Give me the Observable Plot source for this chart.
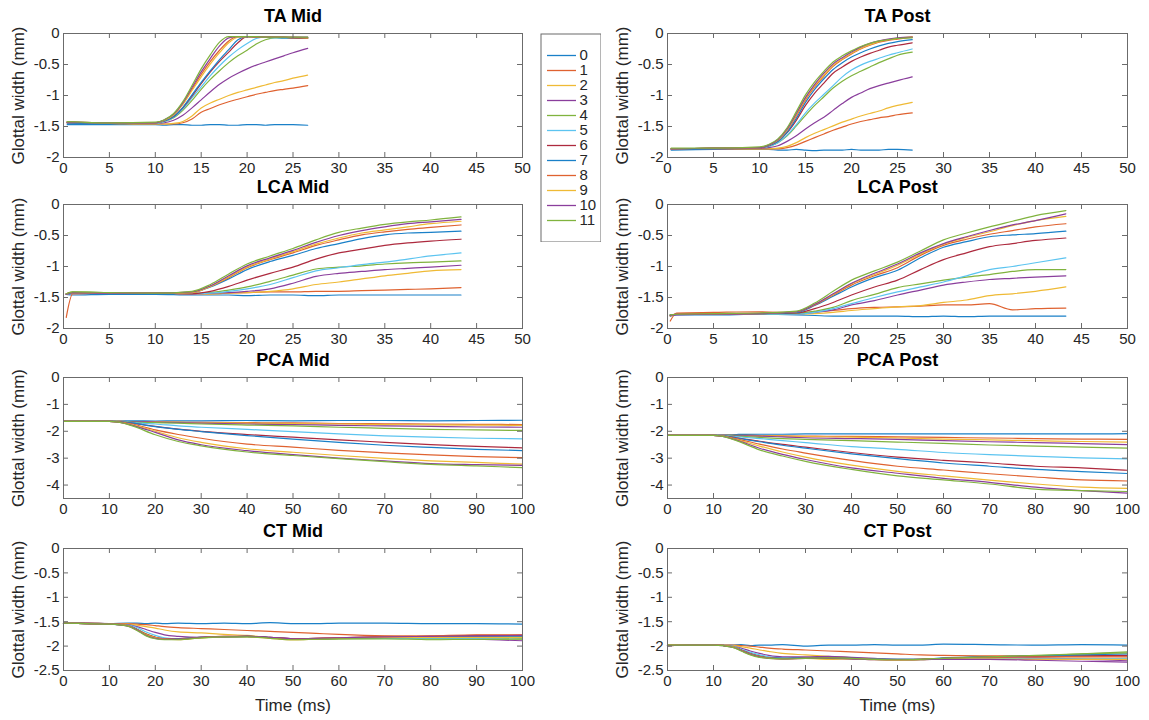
<!DOCTYPE html>
<html><head><meta charset="utf-8">
<script src="https://cdn.jsdelivr.net/npm/d3@7"></script>
<script src="https://cdn.jsdelivr.net/npm/@observablehq/plot@0.6"></script>
<style>
body{margin:0;background:#fff;font-family:"Liberation Sans",Arial,Helvetica,sans-serif;}
#root{position:relative;width:1149px;height:720px;overflow:hidden;}
.panel{position:absolute;}
</style></head><body><div id="root"></div>
<script>
const seriesNames = ["0","1","2","3","4","5","6","7","8","9","10","11"];
const seriesColors = ["#1a80c8","#df6230","#efba35","#8a3e9c","#80b33e","#5cc4f0","#ad2a3e","#1a80c8","#df6230","#efba35","#8a3e9c","#80b33e"];

const ticksX50 = [0,5,10,15,20,25,30,35,40,45,50];
const ticksX100 = [0,10,20,30,40,50,60,70,80,90,100];
const ticksY2 = [0,-0.5,-1,-1.5,-2];
const ticksY45 = [0,-1,-2,-3,-4];
const ticksY25 = [0,-0.5,-1,-1.5,-2,-2.5];

// ---------- TA ----------
const taTime = [0.4,5,10,11,12,13,14,15,16,17,18,19,20,21,22,23,24,25,26.6];
const taMid = [
 [-1.47,-1.47,-1.47,-1.48,-1.47,-1.47,-1.48,-1.48,-1.47,-1.47,-1.48,-1.48,-1.47,-1.47,-1.48,-1.47,-1.47,-1.47,-1.48],
 [-1.44,-1.45,-1.46,-1.46,-1.46,-1.44,-1.38,-1.27,-1.21,-1.15,-1.10,-1.06,-1.02,-0.98,-0.95,-0.92,-0.90,-0.88,-0.84],
 [-1.44,-1.45,-1.46,-1.46,-1.45,-1.42,-1.33,-1.20,-1.12,-1.06,-1.00,-0.95,-0.91,-0.87,-0.83,-0.79,-0.76,-0.72,-0.67],
 [-1.44,-1.45,-1.45,-1.44,-1.40,-1.32,-1.20,-1.07,-0.94,-0.82,-0.72,-0.64,-0.57,-0.51,-0.46,-0.41,-0.36,-0.31,-0.24],
 [-1.43,-1.45,-1.45,-1.42,-1.36,-1.24,-1.08,-0.90,-0.74,-0.60,-0.47,-0.36,-0.27,-0.17,-0.10,-0.07,-0.07,-0.07,-0.07],
 [-1.43,-1.45,-1.45,-1.42,-1.35,-1.22,-1.04,-0.86,-0.68,-0.52,-0.38,-0.26,-0.16,-0.08,-0.06,-0.07,-0.07,-0.07,-0.07],
 [-1.43,-1.45,-1.44,-1.41,-1.34,-1.20,-1.01,-0.81,-0.62,-0.45,-0.30,-0.15,-0.05,-0.05,-0.06,-0.06,-0.06,-0.07,-0.08],
 [-1.44,-1.45,-1.44,-1.41,-1.34,-1.19,-0.99,-0.79,-0.60,-0.42,-0.26,-0.10,-0.05,-0.06,-0.06,-0.06,-0.07,-0.07,-0.07],
 [-1.43,-1.44,-1.44,-1.40,-1.31,-1.14,-0.90,-0.66,-0.45,-0.27,-0.12,-0.05,-0.05,-0.06,-0.06,-0.06,-0.06,-0.07,-0.07],
 [-1.43,-1.44,-1.44,-1.40,-1.31,-1.14,-0.92,-0.70,-0.49,-0.31,-0.15,-0.06,-0.05,-0.05,-0.06,-0.06,-0.06,-0.06,-0.07],
 [-1.43,-1.44,-1.44,-1.39,-1.30,-1.12,-0.87,-0.62,-0.40,-0.20,-0.07,-0.05,-0.05,-0.05,-0.06,-0.06,-0.06,-0.06,-0.06],
 [-1.42,-1.44,-1.43,-1.39,-1.29,-1.10,-0.84,-0.57,-0.34,-0.14,-0.05,-0.05,-0.05,-0.05,-0.06,-0.06,-0.06,-0.06,-0.06]
];
const taPost = [
 [-1.88,-1.87,-1.87,-1.87,-1.88,-1.88,-1.87,-1.88,-1.89,-1.88,-1.88,-1.88,-1.87,-1.88,-1.88,-1.88,-1.87,-1.87,-1.88],
 [-1.86,-1.86,-1.86,-1.86,-1.86,-1.84,-1.80,-1.74,-1.68,-1.62,-1.56,-1.51,-1.46,-1.42,-1.39,-1.36,-1.34,-1.31,-1.28],
 [-1.86,-1.86,-1.86,-1.86,-1.85,-1.82,-1.76,-1.68,-1.61,-1.55,-1.49,-1.43,-1.38,-1.33,-1.29,-1.25,-1.20,-1.16,-1.11],
 [-1.86,-1.86,-1.85,-1.84,-1.81,-1.74,-1.65,-1.54,-1.44,-1.35,-1.24,-1.13,-1.03,-0.96,-0.89,-0.84,-0.80,-0.76,-0.70],
 [-1.86,-1.85,-1.84,-1.82,-1.76,-1.65,-1.49,-1.32,-1.16,-1.02,-0.88,-0.77,-0.68,-0.61,-0.54,-0.47,-0.41,-0.35,-0.30],
 [-1.86,-1.85,-1.84,-1.82,-1.76,-1.64,-1.47,-1.28,-1.12,-0.98,-0.84,-0.70,-0.59,-0.51,-0.45,-0.40,-0.35,-0.31,-0.25],
 [-1.86,-1.85,-1.84,-1.81,-1.74,-1.60,-1.40,-1.16,-0.96,-0.80,-0.64,-0.54,-0.45,-0.38,-0.32,-0.27,-0.22,-0.19,-0.15],
 [-1.87,-1.86,-1.84,-1.81,-1.74,-1.59,-1.37,-1.11,-0.90,-0.73,-0.58,-0.47,-0.38,-0.31,-0.25,-0.20,-0.16,-0.13,-0.10],
 [-1.86,-1.85,-1.84,-1.80,-1.72,-1.56,-1.33,-1.07,-0.86,-0.69,-0.53,-0.42,-0.33,-0.25,-0.19,-0.14,-0.11,-0.09,-0.06],
 [-1.86,-1.85,-1.84,-1.80,-1.72,-1.55,-1.31,-1.05,-0.84,-0.67,-0.51,-0.41,-0.32,-0.24,-0.18,-0.13,-0.10,-0.08,-0.05],
 [-1.86,-1.85,-1.84,-1.80,-1.71,-1.54,-1.29,-1.03,-0.82,-0.64,-0.49,-0.39,-0.30,-0.22,-0.16,-0.12,-0.09,-0.07,-0.06],
 [-1.85,-1.85,-1.83,-1.79,-1.70,-1.52,-1.26,-0.99,-0.78,-0.61,-0.46,-0.36,-0.28,-0.21,-0.16,-0.12,-0.10,-0.08,-0.07]
];

// ---------- LCA ----------
const lcaTime = [0.3,1,5,10,14,16,18,20,22.5,25,27.5,30,32.5,35,37.5,40,43.3];
const lcaMid = [
 [-1.45,-1.46,-1.45,-1.45,-1.46,-1.46,-1.46,-1.47,-1.46,-1.46,-1.47,-1.46,-1.46,-1.46,-1.46,-1.46,-1.46],
 [-1.82,-1.44,-1.43,-1.43,-1.44,-1.44,-1.43,-1.42,-1.41,-1.41,-1.40,-1.40,-1.39,-1.38,-1.37,-1.36,-1.34],
 [-1.45,-1.42,-1.43,-1.43,-1.44,-1.44,-1.43,-1.42,-1.40,-1.36,-1.29,-1.25,-1.20,-1.15,-1.11,-1.07,-1.05],
 [-1.45,-1.42,-1.43,-1.43,-1.44,-1.43,-1.42,-1.40,-1.36,-1.27,-1.16,-1.11,-1.08,-1.05,-1.03,-1.01,-0.98],
 [-1.44,-1.41,-1.42,-1.43,-1.43,-1.42,-1.38,-1.33,-1.24,-1.14,-1.04,-1.01,-0.99,-0.96,-0.94,-0.93,-0.91],
 [-1.45,-1.42,-1.43,-1.43,-1.44,-1.43,-1.40,-1.36,-1.29,-1.18,-1.07,-1.02,-0.97,-0.93,-0.88,-0.83,-0.78],
 [-1.44,-1.42,-1.43,-1.43,-1.44,-1.40,-1.32,-1.22,-1.11,-1.01,-0.88,-0.78,-0.72,-0.66,-0.62,-0.59,-0.56],
 [-1.45,-1.42,-1.43,-1.43,-1.42,-1.33,-1.20,-1.05,-0.92,-0.82,-0.71,-0.63,-0.55,-0.49,-0.46,-0.45,-0.43],
 [-1.44,-1.42,-1.43,-1.43,-1.42,-1.32,-1.18,-1.02,-0.89,-0.78,-0.66,-0.57,-0.49,-0.44,-0.40,-0.37,-0.33],
 [-1.45,-1.42,-1.43,-1.43,-1.42,-1.32,-1.17,-1.01,-0.88,-0.76,-0.64,-0.54,-0.46,-0.41,-0.36,-0.31,-0.27],
 [-1.45,-1.42,-1.43,-1.43,-1.41,-1.31,-1.15,-0.99,-0.86,-0.74,-0.61,-0.50,-0.42,-0.36,-0.31,-0.28,-0.24],
 [-1.44,-1.41,-1.42,-1.43,-1.40,-1.29,-1.12,-0.96,-0.83,-0.71,-0.57,-0.45,-0.38,-0.32,-0.28,-0.25,-0.20]
];
const lcaPost = [
 [-1.80,-1.78,-1.78,-1.77,-1.78,-1.79,-1.80,-1.80,-1.80,-1.80,-1.81,-1.80,-1.81,-1.80,-1.80,-1.80,-1.80],
 [-1.88,-1.75,-1.74,-1.73,-1.75,-1.73,-1.71,-1.68,-1.66,-1.65,-1.64,-1.62,-1.62,-1.60,-1.70,-1.68,-1.67],
 [-1.78,-1.77,-1.77,-1.76,-1.77,-1.76,-1.74,-1.71,-1.68,-1.65,-1.63,-1.58,-1.54,-1.47,-1.44,-1.40,-1.33],
 [-1.79,-1.78,-1.77,-1.77,-1.77,-1.74,-1.70,-1.62,-1.55,-1.46,-1.38,-1.30,-1.25,-1.21,-1.19,-1.17,-1.15],
 [-1.78,-1.77,-1.77,-1.77,-1.76,-1.72,-1.66,-1.55,-1.45,-1.34,-1.28,-1.22,-1.17,-1.13,-1.08,-1.05,-1.05],
 [-1.78,-1.77,-1.77,-1.77,-1.77,-1.74,-1.68,-1.60,-1.50,-1.41,-1.33,-1.25,-1.15,-1.05,-1.00,-0.94,-0.86],
 [-1.79,-1.77,-1.77,-1.76,-1.75,-1.68,-1.58,-1.46,-1.33,-1.22,-1.05,-0.89,-0.78,-0.68,-0.63,-0.58,-0.54],
 [-1.78,-1.77,-1.77,-1.76,-1.74,-1.63,-1.48,-1.33,-1.18,-1.06,-0.86,-0.69,-0.60,-0.52,-0.49,-0.47,-0.43],
 [-1.80,-1.76,-1.76,-1.75,-1.73,-1.62,-1.46,-1.30,-1.15,-1.02,-0.82,-0.66,-0.56,-0.48,-0.42,-0.36,-0.31],
 [-1.79,-1.77,-1.77,-1.76,-1.73,-1.61,-1.45,-1.28,-1.13,-0.98,-0.80,-0.64,-0.53,-0.44,-0.34,-0.26,-0.19],
 [-1.79,-1.77,-1.77,-1.76,-1.73,-1.61,-1.44,-1.27,-1.11,-0.96,-0.78,-0.63,-0.52,-0.42,-0.33,-0.26,-0.15],
 [-1.78,-1.77,-1.76,-1.75,-1.72,-1.59,-1.40,-1.22,-1.07,-0.93,-0.75,-0.57,-0.46,-0.36,-0.27,-0.18,-0.10]
];

// ---------- PCA ----------
const pcaTime = [0,5,10,12,15,20,25,30,40,50,60,70,80,90,100];
const pcaMid = [
 [-1.63,-1.63,-1.62,-1.62,-1.61,-1.62,-1.61,-1.61,-1.60,-1.61,-1.60,-1.60,-1.61,-1.60,-1.59],
 [-1.63,-1.63,-1.63,-1.63,-1.64,-1.65,-1.66,-1.67,-1.68,-1.69,-1.71,-1.72,-1.73,-1.74,-1.75],
 [-1.63,-1.63,-1.63,-1.63,-1.64,-1.65,-1.67,-1.68,-1.70,-1.71,-1.73,-1.75,-1.76,-1.77,-1.78],
 [-1.63,-1.63,-1.63,-1.63,-1.64,-1.66,-1.68,-1.70,-1.73,-1.75,-1.78,-1.80,-1.82,-1.84,-1.85],
 [-1.63,-1.63,-1.63,-1.63,-1.66,-1.68,-1.70,-1.73,-1.77,-1.80,-1.85,-1.89,-1.93,-1.95,-1.97],
 [-1.63,-1.63,-1.63,-1.64,-1.68,-1.73,-1.80,-1.85,-1.93,-2.01,-2.10,-2.17,-2.22,-2.26,-2.28],
 [-1.63,-1.63,-1.63,-1.65,-1.70,-1.82,-1.92,-2.00,-2.12,-2.22,-2.32,-2.41,-2.50,-2.56,-2.62],
 [-1.63,-1.63,-1.63,-1.65,-1.70,-1.83,-1.93,-2.01,-2.16,-2.29,-2.41,-2.52,-2.60,-2.67,-2.72],
 [-1.63,-1.63,-1.63,-1.65,-1.73,-1.95,-2.12,-2.26,-2.48,-2.59,-2.71,-2.80,-2.88,-2.94,-2.98],
 [-1.63,-1.63,-1.63,-1.66,-1.76,-2.00,-2.24,-2.41,-2.65,-2.78,-2.90,-3.01,-3.10,-3.16,-3.22],
 [-1.63,-1.63,-1.63,-1.66,-1.78,-2.04,-2.32,-2.50,-2.72,-2.87,-3.00,-3.10,-3.20,-3.24,-3.27],
 [-1.63,-1.63,-1.63,-1.66,-1.80,-2.13,-2.38,-2.54,-2.77,-2.90,-3.02,-3.13,-3.23,-3.29,-3.35]
];
const pcaPost = [
 [-2.15,-2.15,-2.14,-2.13,-2.12,-2.11,-2.11,-2.10,-2.10,-2.10,-2.10,-2.10,-2.10,-2.10,-2.09],
 [-2.15,-2.15,-2.15,-2.15,-2.15,-2.16,-2.17,-2.18,-2.19,-2.21,-2.23,-2.25,-2.27,-2.29,-2.30],
 [-2.15,-2.15,-2.15,-2.15,-2.16,-2.17,-2.18,-2.20,-2.22,-2.25,-2.29,-2.32,-2.35,-2.38,-2.40],
 [-2.15,-2.15,-2.15,-2.15,-2.16,-2.18,-2.21,-2.24,-2.27,-2.30,-2.35,-2.39,-2.42,-2.46,-2.50],
 [-2.15,-2.15,-2.15,-2.16,-2.18,-2.23,-2.27,-2.30,-2.35,-2.40,-2.45,-2.51,-2.55,-2.59,-2.63],
 [-2.15,-2.15,-2.15,-2.16,-2.20,-2.27,-2.35,-2.42,-2.57,-2.67,-2.79,-2.87,-2.93,-2.99,-3.03],
 [-2.15,-2.15,-2.15,-2.17,-2.24,-2.37,-2.49,-2.59,-2.79,-2.96,-3.08,-3.18,-3.30,-3.36,-3.45],
 [-2.15,-2.15,-2.15,-2.17,-2.25,-2.39,-2.52,-2.63,-2.84,-3.02,-3.18,-3.30,-3.42,-3.50,-3.57],
 [-2.15,-2.15,-2.15,-2.18,-2.28,-2.48,-2.66,-2.81,-3.08,-3.30,-3.44,-3.58,-3.70,-3.81,-3.85],
 [-2.15,-2.15,-2.15,-2.18,-2.31,-2.55,-2.77,-2.96,-3.26,-3.49,-3.66,-3.82,-3.96,-4.08,-4.12],
 [-2.15,-2.15,-2.15,-2.19,-2.33,-2.63,-2.86,-3.05,-3.36,-3.56,-3.75,-3.90,-4.08,-4.21,-4.30],
 [-2.15,-2.15,-2.15,-2.19,-2.35,-2.69,-2.92,-3.12,-3.42,-3.66,-3.81,-3.96,-4.15,-4.21,-4.24]
];

// ---------- CT ----------
const ctTime = [0,5,10,14,16,18,20,22,25,30,35,40,45,50,55,60,70,80,90,100];
const ctMid = [
 [-1.53,-1.53,-1.54,-1.53,-1.53,-1.54,-1.53,-1.54,-1.53,-1.54,-1.53,-1.54,-1.52,-1.54,-1.54,-1.53,-1.53,-1.54,-1.54,-1.55],
 [-1.53,-1.53,-1.54,-1.54,-1.55,-1.56,-1.58,-1.60,-1.62,-1.64,-1.66,-1.68,-1.70,-1.72,-1.74,-1.76,-1.79,-1.80,-1.79,-1.78],
 [-1.53,-1.53,-1.54,-1.55,-1.57,-1.60,-1.63,-1.67,-1.71,-1.73,-1.76,-1.78,-1.83,-1.87,-1.86,-1.84,-1.82,-1.82,-1.81,-1.80],
 [-1.53,-1.53,-1.54,-1.56,-1.60,-1.66,-1.72,-1.77,-1.80,-1.82,-1.82,-1.80,-1.82,-1.85,-1.85,-1.84,-1.82,-1.83,-1.86,-1.89],
 [-1.53,-1.54,-1.55,-1.58,-1.65,-1.75,-1.82,-1.86,-1.86,-1.83,-1.81,-1.80,-1.83,-1.86,-1.86,-1.85,-1.84,-1.87,-1.86,-1.86],
 [-1.53,-1.54,-1.55,-1.57,-1.62,-1.71,-1.78,-1.83,-1.85,-1.82,-1.81,-1.81,-1.83,-1.85,-1.85,-1.84,-1.84,-1.84,-1.84,-1.83],
 [-1.53,-1.54,-1.55,-1.58,-1.66,-1.76,-1.82,-1.85,-1.85,-1.82,-1.80,-1.80,-1.82,-1.85,-1.84,-1.83,-1.82,-1.80,-1.78,-1.78],
 [-1.53,-1.54,-1.55,-1.58,-1.66,-1.77,-1.83,-1.86,-1.85,-1.82,-1.81,-1.80,-1.83,-1.86,-1.85,-1.84,-1.82,-1.81,-1.80,-1.80],
 [-1.53,-1.54,-1.55,-1.58,-1.66,-1.76,-1.82,-1.85,-1.86,-1.82,-1.80,-1.80,-1.83,-1.85,-1.84,-1.83,-1.80,-1.79,-1.77,-1.77],
 [-1.53,-1.54,-1.55,-1.58,-1.67,-1.77,-1.83,-1.86,-1.87,-1.83,-1.81,-1.81,-1.84,-1.87,-1.86,-1.84,-1.82,-1.82,-1.82,-1.82],
 [-1.53,-1.54,-1.55,-1.59,-1.67,-1.78,-1.84,-1.86,-1.86,-1.82,-1.81,-1.80,-1.82,-1.85,-1.84,-1.83,-1.81,-1.80,-1.79,-1.78],
 [-1.53,-1.54,-1.55,-1.59,-1.68,-1.79,-1.85,-1.87,-1.87,-1.83,-1.81,-1.81,-1.84,-1.87,-1.86,-1.85,-1.85,-1.86,-1.86,-1.85]
];
const ctPost = [
 [-1.99,-1.97,-1.98,-1.98,-1.97,-1.99,-1.98,-1.98,-1.97,-2.00,-1.98,-1.98,-1.97,-1.98,-1.98,-1.96,-1.97,-1.98,-1.97,-1.98],
 [-1.99,-1.98,-1.98,-1.98,-1.99,-2.00,-2.02,-2.04,-2.06,-2.08,-2.10,-2.12,-2.14,-2.16,-2.18,-2.19,-2.20,-2.20,-2.20,-2.20],
 [-1.99,-1.98,-1.98,-1.99,-2.01,-2.04,-2.08,-2.11,-2.15,-2.18,-2.21,-2.24,-2.26,-2.27,-2.27,-2.26,-2.26,-2.25,-2.25,-2.26],
 [-1.99,-1.98,-1.98,-2.00,-2.04,-2.10,-2.15,-2.19,-2.22,-2.22,-2.21,-2.23,-2.25,-2.27,-2.27,-2.25,-2.24,-2.24,-2.27,-2.30],
 [-1.98,-1.98,-1.98,-2.01,-2.07,-2.15,-2.20,-2.23,-2.25,-2.24,-2.24,-2.26,-2.27,-2.28,-2.28,-2.25,-2.22,-2.20,-2.16,-2.12],
 [-1.98,-1.98,-1.98,-2.00,-2.06,-2.13,-2.18,-2.22,-2.24,-2.25,-2.25,-2.26,-2.27,-2.27,-2.27,-2.26,-2.25,-2.26,-2.26,-2.25],
 [-1.98,-1.98,-1.98,-2.01,-2.08,-2.16,-2.21,-2.24,-2.25,-2.24,-2.24,-2.25,-2.27,-2.28,-2.27,-2.25,-2.22,-2.21,-2.20,-2.19],
 [-1.98,-1.98,-1.98,-2.01,-2.08,-2.16,-2.21,-2.24,-2.25,-2.24,-2.24,-2.25,-2.26,-2.27,-2.27,-2.24,-2.22,-2.20,-2.18,-2.16],
 [-1.98,-1.98,-1.98,-2.01,-2.08,-2.16,-2.21,-2.24,-2.26,-2.25,-2.24,-2.26,-2.27,-2.28,-2.27,-2.25,-2.23,-2.22,-2.22,-2.22],
 [-1.98,-1.98,-1.98,-2.01,-2.09,-2.17,-2.22,-2.25,-2.26,-2.25,-2.27,-2.26,-2.28,-2.29,-2.28,-2.26,-2.26,-2.27,-2.27,-2.27],
 [-1.99,-1.98,-1.98,-2.02,-2.09,-2.17,-2.22,-2.25,-2.26,-2.25,-2.25,-2.26,-2.28,-2.28,-2.28,-2.27,-2.27,-2.29,-2.31,-2.33],
 [-1.98,-1.98,-1.98,-2.02,-2.10,-2.18,-2.23,-2.25,-2.26,-2.25,-2.24,-2.25,-2.27,-2.28,-2.27,-2.25,-2.22,-2.19,-2.16,-2.14]
];

const yLabel = "Glottal width (mm)";
const xLabel = "Time (ms)";
const FONT = '"Liberation Sans", Arial, Helvetica, sans-serif';
const AXIS = "#6b6b6b";

const panels = [
  {title:"TA Mid",  time:taTime,  values:taMid,  xd:[0,50],  xt:ticksX50,  yd:[-2,0],   yt:ticksY2,  col:0, top:33,  h:124},
  {title:"TA Post", time:taTime,  values:taPost, xd:[0,50],  xt:ticksX50,  yd:[-2,0],   yt:ticksY2,  col:1, top:33,  h:124},
  {title:"LCA Mid", time:lcaTime, values:lcaMid, xd:[0,50],  xt:ticksX50,  yd:[-2,0],   yt:ticksY2,  col:0, top:204, h:124},
  {title:"LCA Post",time:lcaTime, values:lcaPost,xd:[0,50],  xt:ticksX50,  yd:[-2,0],   yt:ticksY2,  col:1, top:204, h:124},
  {title:"PCA Mid", time:pcaTime, values:pcaMid, xd:[0,100], xt:ticksX100, yd:[-4.5,0], yt:ticksY45, col:0, top:377, h:121},
  {title:"PCA Post",time:pcaTime, values:pcaPost,xd:[0,100], xt:ticksX100, yd:[-4.5,0], yt:ticksY45, col:1, top:377, h:121},
  {title:"CT Mid",  time:ctTime,  values:ctMid,  xd:[0,100], xt:ticksX100, yd:[-2.5,0], yt:ticksY25, col:0, top:548, h:122, xl:true},
  {title:"CT Post", time:ctTime,  values:ctPost, xd:[0,100], xt:ticksX100, yd:[-2.5,0], yt:ticksY25, col:1, top:548, h:122, xl:true}
];

const root = document.getElementById("root");
const fmt = d => String(d);

for (const p of panels) {
  const rows = [];
  p.values.forEach((vals, i) => vals.forEach((v, j) => rows.push({t: p.time[j], v, s: seriesNames[i]})));
  const fw = p.col === 0 ? 459 : 460;
  const fh = p.h;
  const mt = 32, mb = p.xl ? 50 : 26, ml = 63, mr = 8;
  const chart = Plot.plot({
    width: ml + fw + mr, height: mt + fh + mb,
    marginTop: mt, marginBottom: mb, marginLeft: ml, marginRight: mr,
    style: {fontFamily: FONT, fontSize: "15px", color: "#262626", background: "transparent", overflow: "visible"},
    x: {domain: p.xd},
    y: {domain: p.yd},
    color: {domain: seriesNames, range: seriesColors},
    marks: [
      Plot.line(rows, {x: "t", y: "v", z: "s", stroke: "s", strokeWidth: 1.2, curve: "monotone-x"}),
      Plot.frame({stroke: AXIS}),
      Plot.tickX(p.xt, {x: d => d, insetTop: fh - 5, stroke: AXIS}),
      Plot.tickX(p.xt, {x: d => d, insetBottom: fh - 5, stroke: AXIS}),
      Plot.tickY(p.yt, {y: d => d, insetRight: fw - 5, stroke: AXIS}),
      Plot.tickY(p.yt, {y: d => d, insetLeft: fw - 5, stroke: AXIS}),
      Plot.axisX({ticks: p.xt, tickSize: 0, tickPadding: 5, tickFormat: fmt, label: null, fontSize: 15}),
      Plot.axisY({ticks: p.yt, tickSize: 0, tickPadding: 4, tickFormat: fmt, label: null, fontSize: 15}),
      Plot.text([p.title], {text: d => d, frameAnchor: "top", textAnchor: "middle", lineAnchor: "middle", dy: -17, fontWeight: "bold", fontSize: 18, fill: "#000"}),
      Plot.text([yLabel], {text: d => d, frameAnchor: "left", textAnchor: "middle", lineAnchor: "middle", rotate: -90, dx: -45, fontSize: 17, fill: "#262626"}),
      p.xl ? Plot.text([xLabel], {text: d => d, frameAnchor: "bottom", textAnchor: "middle", lineAnchor: "middle", dy: 35, fontSize: 17, fill: "#262626"}) : null
    ]
  });
  const div = document.createElement("div");
  div.className = "panel";
  div.style.left = (p.col === 0 ? 0 : 604) + "px";
  div.style.top = (p.top - mt) + "px";
  div.appendChild(chart);
  root.appendChild(div);
}

// legend
const legend = Plot.plot({
  width: 61, height: 209, margin: 0,
  style: {fontFamily: FONT, fontSize: "15px", color: "#262626", background: "#fff"},
  x: {domain: [0, 61], range: [0, 61], axis: null},
  y: {type: "point", domain: seriesNames, range: [10, 199], axis: null},
  color: {domain: seriesNames, range: seriesColors},
  marks: [
    Plot.ruleY(seriesNames, {y: d => d, x1: 7, x2: 36, stroke: d => d, strokeWidth: 1.3}),
    Plot.text(seriesNames, {y: d => d, x: 39, text: d => d, textAnchor: "start", fontSize: 15, fill: "#262626"}),
    Plot.frame({stroke: AXIS, inset: 0.5})
  ]
});
const ld = document.createElement("div");
ld.className = "panel";
ld.style.left = "540px";
ld.style.top = "33px";
ld.appendChild(legend);
root.appendChild(ld);
</script>
</body></html>
